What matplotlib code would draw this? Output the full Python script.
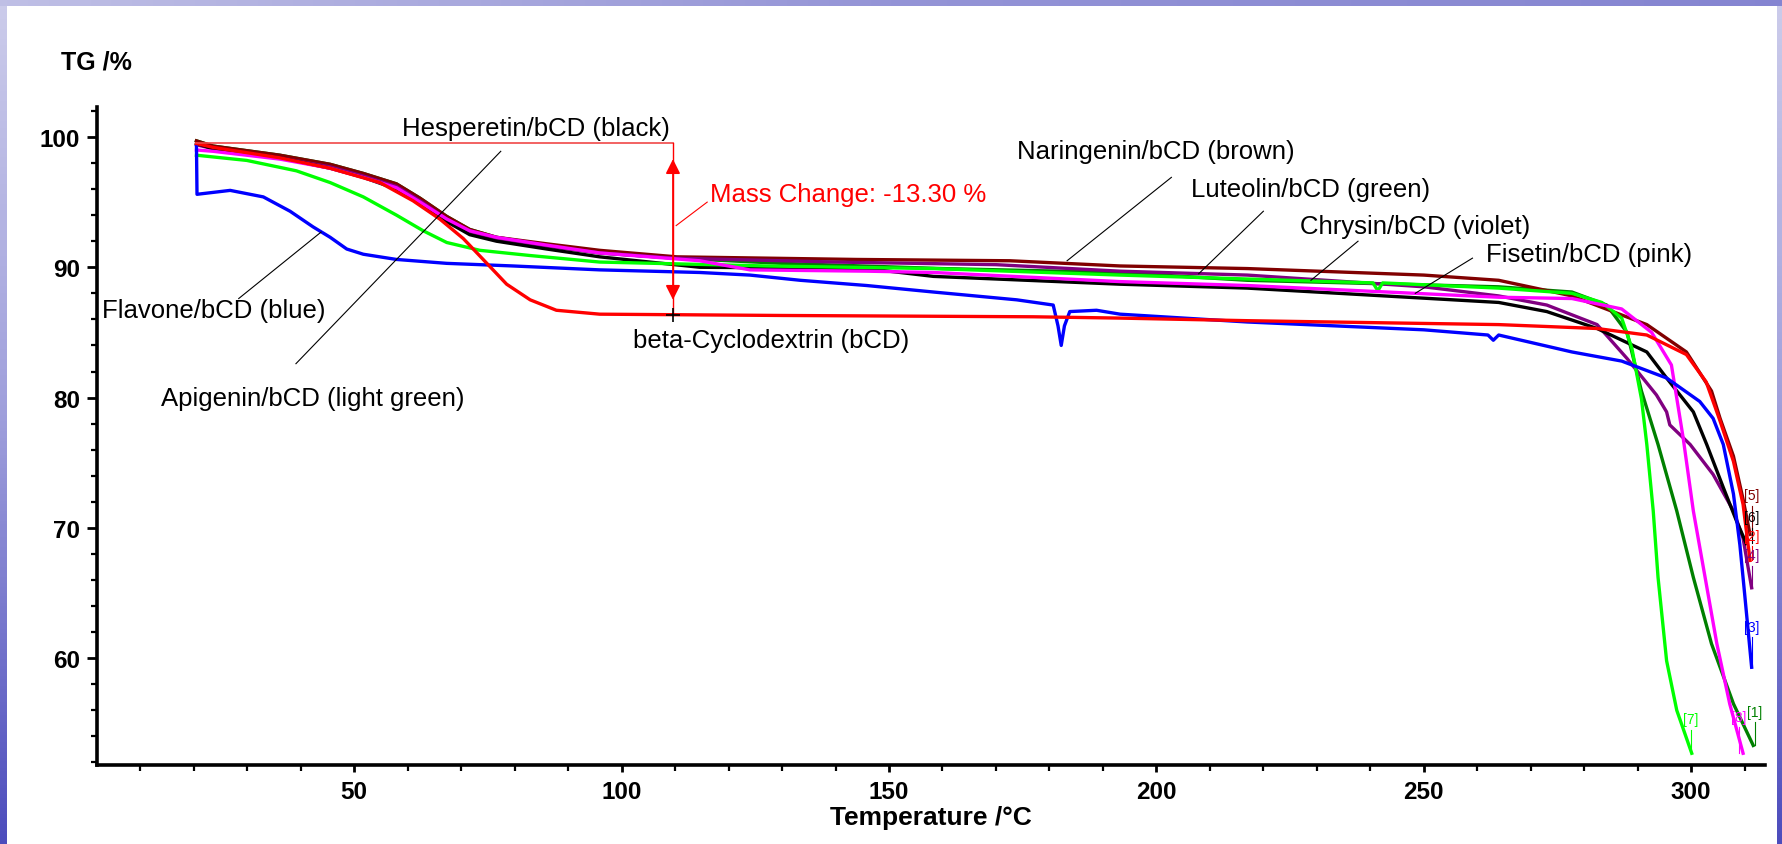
import matplotlib
matplotlib.use("Agg")
import matplotlib.pyplot as plt
import numpy as np
from matplotlib.ticker import MultipleLocator

# --- data (temperature in degC, TG in %) ---
t_blue = [20.5, 20.6, 26.8, 33.0, 38.0, 42.3, 45.5, 48.6, 51.7, 57.9, 67.3, 79.7, 95.9, 114.6,
          124, 133.4, 145.8, 158.3, 173.9, 180.7, 181.6, 182.2, 182.8, 183.8, 188.8, 193.2,
          217, 250, 262, 263, 264, 277.7, 287, 295.4, 301.6, 304.1, 306.0, 307.9, 309.1,
          310.0, 311.3]
tg_blue = [99.3, 95.6, 95.9, 95.4, 94.3, 93.1, 92.3, 91.4, 91.0, 90.6, 90.3, 90.1, 89.8, 89.6,
           89.4, 89.0, 88.6, 88.1, 87.5, 87.1, 85.5, 84.0, 85.5, 86.6, 86.7, 86.4,
           85.8, 85.2, 84.8, 84.4, 84.8, 83.5, 82.8, 81.5, 79.7, 78.4, 76.4, 72.6, 68.7,
           64.9, 59.3]

t_red = [20.5, 23.6, 36.1, 45.5, 54.8, 61.0, 66.0, 70.4, 74.8, 78.5, 82.9, 87.8, 95.9, 130,
         177, 193, 217, 264, 282.4, 291.7, 299.1, 302.8, 305.4, 307.9, 309.7, 311.0]
tg_red = [99.5, 99.2, 98.4, 97.6, 96.5, 95.1, 93.7, 92.2, 90.3, 88.7, 87.5, 86.7, 86.4, 86.3,
          86.2, 86.1, 85.9, 85.6, 85.3, 84.8, 83.3, 81.2, 78.2, 75.1, 71.8, 67.5]

t_brown = [20.5, 23.6, 36.1, 45.5, 51.7, 57.9, 62.3, 67.3, 71.6, 76.6, 86.0, 95.9, 110.3, 143.9,
           172.6, 193.2, 217, 250, 264, 277.7, 291.7, 299.1, 303.8, 305.4, 307.9, 309.7, 311.0]
tg_brown = [99.7, 99.3, 98.6, 97.9, 97.2, 96.4, 95.3, 93.9, 92.9, 92.3, 91.8, 91.3, 90.8, 90.6,
            90.5, 90.1, 89.9, 89.4, 89.0, 87.8, 85.6, 83.5, 80.5, 78.4, 75.5, 72.2, 69.5]

t_dgreen = [20.5, 23.6, 36.1, 45.5, 51.7, 57.9, 62.3, 67.3, 71.6, 76.6, 86.0, 95.9, 110, 130,
            160, 193, 217, 264, 277.7, 284.2, 288.0, 290.7, 293.8, 297.3, 300.4, 303.8,
            307.9, 311.6]
tg_dgreen = [99.7, 99.3, 98.6, 97.9, 97.2, 96.4, 95.3, 93.9, 92.9, 92.3, 91.7, 91.1, 90.7, 90.3,
             89.9, 89.6, 89.0, 88.5, 88.1, 87.1, 85.0, 80.5, 76.4, 71.3, 66.2, 61.1,
             56.5, 53.3]

t_lgreen = [20.5, 29.9, 39.2, 45.5, 51.7, 57.9, 62.9, 67.3, 73.5, 82.9, 95.9, 127.1, 158.3,
            193.2, 217, 240.5, 241.4, 242.3, 264, 277.7, 283.3, 287.0, 288.9, 290.7, 291.7,
            292.9, 293.8, 295.4, 297.3, 300.1]
tg_lgreen = [98.6, 98.2, 97.4, 96.5, 95.4, 94.0, 92.8, 91.9, 91.3, 90.9, 90.4, 90.1, 89.9,
             89.4, 89.1, 88.8, 88.2, 88.8, 88.4, 88.0, 87.3, 86.1, 83.8, 79.9, 76.4,
             71.3, 66.2, 59.8, 56.0, 52.7]

t_violet = [20.5, 23.6, 36.1, 45.5, 51.7, 57.9, 62.3, 67.3, 71.6, 76.6, 86.0, 95.9, 110, 140,
            170, 193.2, 217, 250, 264, 273, 282.4, 288.0, 293.5, 295.4, 296.0, 299.8, 304.1,
            307.9, 309.7, 311.3]
tg_violet = [99.4, 99.1, 98.4, 97.7, 97.0, 96.2, 95.1, 93.7, 92.7, 92.2, 91.6, 91.1, 90.7, 90.4,
             90.2, 89.7, 89.4, 88.5, 87.8, 87.1, 85.6, 83.0, 80.2, 78.9, 77.9, 76.4, 74.1,
             71.3, 69.2, 65.4]

t_black = [20.5, 23.6, 36.1, 45.5, 51.7, 57.9, 62.3, 67.3, 71.6, 76.6, 86.0, 95.9, 114.6, 145.8,
           158.3, 193.2, 217, 264, 273, 282.4, 291.7, 295.4, 300.4, 302.9, 306.0, 308.5, 310.3]
tg_black = [99.5, 99.1, 98.4, 97.6, 96.9, 96.0, 94.9, 93.5, 92.5, 92.0, 91.4, 90.8, 90.0, 89.9,
            89.3, 88.7, 88.4, 87.3, 86.6, 85.3, 83.5, 81.5, 78.9, 76.4, 73.1, 70.5, 68.8]

t_pink = [20.5, 23.6, 36.1, 45.5, 51.7, 57.9, 62.3, 67.3, 71.6, 76.6, 86.0, 95.9, 114.6, 124,
          145.8, 158.3, 193.2, 217, 264, 277.7, 287.0, 292.6, 296.3, 298.5, 300.4, 302.6,
          304.8, 307.2, 309.7]
tg_pink = [99.0, 98.9, 98.3, 97.6, 96.9, 96.1, 95.0, 93.7, 92.8, 92.3, 91.7, 91.1, 90.5, 89.8,
           89.7, 89.6, 88.9, 88.6, 87.7, 87.6, 86.8, 85.0, 82.5, 76.9, 71.3, 66.2,
           61.1, 56.5, 52.7]

# curve end labels: (tag, colour, x, y of label, y of curve end)
end_tags = [("[5]", "#800000", 311.3, 72.5, 69.5),
            ("[2]", "#ff0000", 311.3, 69.4, 67.5),
            ("[6]", "#000000", 311.3, 70.8, 68.8),
            ("[4]", "#800080", 311.3, 67.9, 65.4),
            ("[3]", "#0000ff", 311.3, 62.4, 59.3),
            ("[1]", "#008000", 311.9, 55.9, 53.3),
            ("[8]", "#ff00ff", 308.9, 55.5, 52.7),
            ("[7]", "#00ff00", 299.9, 55.3, 52.7)]

W, H = 1783, 845
fig = plt.figure(figsize=(W / 100, H / 100), dpi=100)
fig.patch.set_facecolor("white")

# slide border (blue gradient strips)
grad = np.linspace(0, 1, 256).reshape(-1, 1)
left_cmap = matplotlib.colors.LinearSegmentedColormap.from_list(
    "edge", [(0.80, 0.80, 0.92), (0.62, 0.62, 0.86), (0.30, 0.30, 0.74)])
bl = fig.add_axes([0, 0, 7 / W, 1])
bl.imshow(grad, aspect="auto", cmap=left_cmap, origin="upper")
bl.axis("off")
br = fig.add_axes([1 - 6 / W, 0, 6 / W, 1])
br.imshow(grad, aspect="auto", cmap=left_cmap, origin="upper")
br.axis("off")
bt = fig.add_axes([0, 1 - 7 / H, 1, 7 / H])
top_cmap = matplotlib.colors.LinearSegmentedColormap.from_list(
    "top", [(0.75, 0.75, 0.90), (0.58, 0.58, 0.84), (0.52, 0.52, 0.82)])
bt.imshow(grad.T, aspect="auto", cmap=top_cmap)
bt.axis("off")

ax = fig.add_axes([97 / W, 1 - 766 / H, (1765 - 97) / W, (766 - 108) / H])
ax.set_xlim(1.9, 313.8)
ax.set_ylim(51.8, 102.3)

lw = 2.4
ax.plot(t_dgreen, tg_dgreen, color="#008000", lw=lw)
ax.plot(t_brown, tg_brown, color="#800000", lw=lw)
ax.plot(t_violet, tg_violet, color="#800080", lw=lw)
ax.plot(t_black, tg_black, color="#000000", lw=lw)
ax.plot(t_lgreen, tg_lgreen, color="#00ff00", lw=lw)
ax.plot(t_pink, tg_pink, color="#ff00ff", lw=lw)
ax.plot(t_blue, tg_blue, color="#0000ff", lw=lw)
ax.plot(t_red, tg_red, color="#ff0000", lw=lw)

for tag, col, x, y, yend in end_tags:
    ax.text(x, y, tag, color=col, fontsize=10, family="Liberation Sans",
            ha="center", va="center")
    ax.plot([x, x], [y - 0.8, yend], color=col, lw=0.8)

# mass change step
ax.plot([20.5, 109.6], [99.57, 99.57], color="#f04848", lw=1.2)
ax.plot([109.6, 109.6], [99.57, 86.3], color="#ff0000", lw=1.0)
ax.annotate("", xy=(109.6, 98.3), xytext=(109.6, 87.5),
            arrowprops=dict(arrowstyle="<|-|>", color="#ff0000", lw=1.2,
                            mutation_scale=22, shrinkA=0, shrinkB=0))
ax.plot([109.6], [86.3], marker="+", color="black", ms=10, mew=1.2)
ax.plot([110.2, 116.0], [93.2, 95.0], color="#ff0000", lw=0.8)
ax.text(116.6, 95.6, "Mass Change: -13.30 %", color="#ff0000", fontsize=18.5,
        family="Liberation Sans", va="center", ha="left")

lab = dict(fontsize=18.5, family="Liberation Sans", color="black", va="center")
ax.text(83.9, 100.65, "Hesperetin/bCD (black)", ha="center", **lab)
ax.text(23.7, 86.7, "Flavone/bCD (blue)", ha="center", **lab)
ax.text(42.2, 80.0, "Apigenin/bCD (light green)", ha="center", **lab)
ax.text(128.0, 84.4, "beta-Cyclodextrin (bCD)", ha="center", **lab)
ax.text(199.8, 98.9, "Naringenin/bCD (brown)", ha="center", **lab)
ax.text(228.9, 96.0, "Luteolin/bCD (green)", ha="center", **lab)
ax.text(248.3, 93.2, "Chrysin/bCD (violet)", ha="center", **lab)
ax.text(280.9, 91.0, "Fisetin/bCD (pink)", ha="center", **lab)

# leader lines
leaders = [((77.4, 98.9), (39.1, 82.6)),
           ((28.4, 87.6), (43.8, 92.7)),
           ((202.8, 96.9), (183.3, 90.5)),
           ((220.0, 94.3), (207.9, 89.5)),
           ((237.7, 92.0), (228.9, 89.0)),
           ((259.1, 90.7), (248.4, 88.0))]
for (x0, y0), (x1, y1) in leaders:
    ax.plot([x0, x1], [y0, y1], color="black", lw=0.8)

# axes styling
for s in ("top", "right"):
    ax.spines[s].set_visible(False)
for s in ("left", "bottom"):
    ax.spines[s].set_linewidth(2.6)
ax.set_xticks([50, 100, 150, 200, 250, 300])
ax.xaxis.set_minor_locator(MultipleLocator(10))
ax.set_yticks([60, 70, 80, 90, 100])
ax.yaxis.set_minor_locator(MultipleLocator(2))
ax.tick_params(axis="y", which="major", direction="out", length=7, width=2, pad=5)
ax.tick_params(axis="y", which="minor", direction="out", length=4, width=1.6)
ax.tick_params(axis="x", which="major", direction="out", length=5, width=2, pad=6)
ax.tick_params(axis="x", which="minor", direction="out", length=4, width=1.6)
for t in ax.get_xticklabels() + ax.get_yticklabels():
    t.set_fontfamily("Liberation Sans")
    t.set_fontweight("bold")
    t.set_fontsize(17.5)

fig.text(931 / W, 1 - 818 / H, "Temperature /°C", ha="center", va="center",
         fontsize=19, fontweight="bold", family="Liberation Sans")
fig.text(61 / W, 1 - 62 / H, "TG /%", ha="left", va="center",
         fontsize=18, fontweight="bold", family="Liberation Sans")

fig.savefig("out.png", dpi=100, facecolor="white")
